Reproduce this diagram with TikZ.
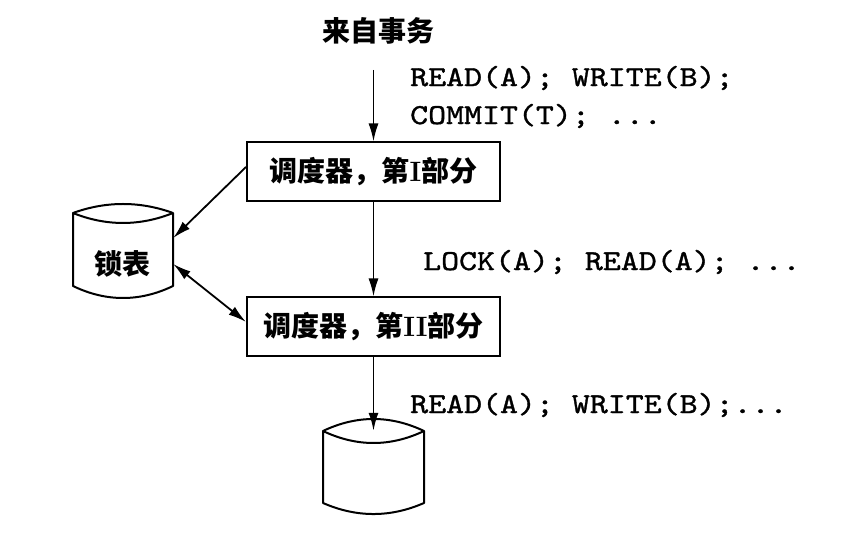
\documentclass[tikz,border=0pt]{standalone}
\usepackage{fontspec}
\newfontfamily\cjk{Noto Sans CJK SC}
\newfontfamily\monof[Extension=.otf, FakeBold=1.2, FakeStretch=1.18]{lmmono10-regular}
\usetikzlibrary{arrows.meta}
\newcommand\monotxt[1]{{\fontsize{29pt}{34pt}\monof #1}}
\tikzset{
  ln/.style={line width=2pt},
  conn/.style={line width=1.8pt, -{Latex[length=18pt,width=10pt]}},
  dconn/.style={line width=1.8pt, {Latex[length=18pt,width=10pt]}-{Latex[length=18pt,width=10pt]}},
  stage/.style={draw, ln, minimum width=253pt, minimum height=59pt, inner sep=0pt, font=\fontsize{28pt}{32pt}\selectfont\cjk\bfseries},
  cjklbl/.style={inner sep=0pt, font=\fontsize{28pt}{32pt}\selectfont\cjk\bfseries},
  monolbl/.style={inner sep=0pt, anchor=west},
  cylbody/.style={minimum width=100pt, inner sep=0pt},
  cyl/.style={ln, line join=round},
}
\begin{document}
\begin{tikzpicture}[x=1pt,y=-1pt]
\useasboundingbox (0,0) rectangle (852,534);
% text at top
\node[cjklbl] (src) at (378,31) {来自事务};
\coordinate (in) at (373.5,70);
% scheduler stages
\node[stage] (s1) at (373.5,172) {调度器，第{\rmfamily I}部分};
\node[stage] (s2) at (373.5,327) {调度器，第{\rmfamily II}部分};
% lock table cylinder
\node[cylbody, minimum height=85pt] (lock) at (123,255.5) {};
\draw[cyl] (73,213) .. controls (106,201) and (140,201) .. (173,213)
           .. controls (140,226.3) and (106,226.3) .. (73,213)
           -- (73,286) .. controls (106,302) and (140,302) .. (173,286) -- (173,213);
\node[cjklbl] (locklbl) at (122,264) {锁表};
% database cylinder
\node[cylbody, minimum width=101pt, minimum height=72pt] (db) at (373.5,467) {};
\draw[cyl] (323,431) .. controls (356.7,415) and (390.3,415) .. (424,431)
           .. controls (390.3,447) and (356.7,447) .. (323,431)
           -- (323,503) .. controls (356.7,517.7) and (390.3,517.7) .. (424,503) -- (424,431);
% connectors
\draw[conn] (in) -- (s1.north);
\draw[conn] (s1.south) -- (s2.north);
\draw[conn] (s2.south) -- (db.north);
\draw[conn] ([yshift=5pt]s1.west) -- ([yshift=17.5pt]lock.east);
\draw[dconn] ([yshift=-8.5pt]lock.east) -- ([yshift=5pt]s2.west);
% action streams
\node[monolbl] (t1) at (410,78) {\monotxt{READ(A); WRITE(B);}};
\node[monolbl] (t2) at (410,116) {\monotxt{COMMIT(T); ...}};
\node[monolbl] (t3) at (423,262) {\monotxt{LOCK(A); READ(A); ...}};
\node[monolbl] (t4) at (410,405) {\monotxt{READ(A); WRITE(B);...}};
\end{tikzpicture}
\end{document}
